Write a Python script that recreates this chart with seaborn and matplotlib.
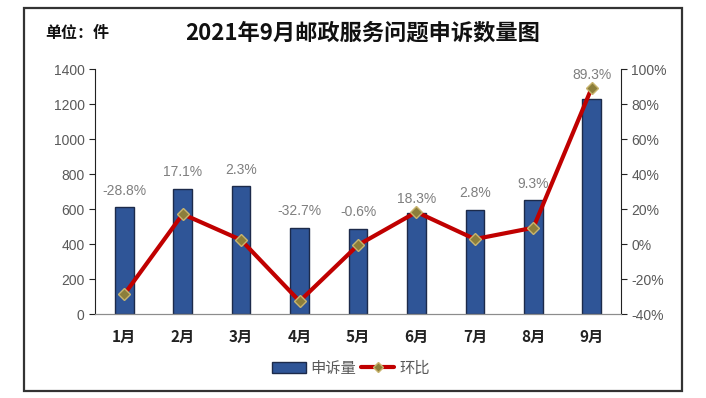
import numpy as np
import pandas as pd
import matplotlib.pyplot as plt
import seaborn as sns
from matplotlib.patches import Rectangle, Patch
from matplotlib.lines import Line2D
from matplotlib.ticker import FuncFormatter

# data
months = ["1月", "2月", "3月", "4月", "5月", "6月", "7月", "8月", "9月"]
complaints = [610, 714, 730, 491, 488, 578, 594, 649, 1229]
mom_ratio = [-28.8, 17.1, 2.3, -32.7, -0.6, 18.3, 2.8, 9.3, 89.3]

sns.set_style("white")
cjk = ["Noto Sans CJK SC", "DejaVu Sans"]
narrow = ["Liberation Sans Narrow", "Liberation Sans", "DejaVu Sans"]
plt.rcParams["font.family"] = cjk

df = pd.DataFrame({"month": months, "count": complaints, "ratio": mom_ratio})
df["pos"] = np.arange(len(df))

fig = plt.figure(figsize=(7.06, 3.98), dpi=100)
ax = fig.add_axes([0.1346, 0.211, 0.745, 0.6156])

bar_color = "#2F5597"
line_color = "#C00000"

# bars: complaint counts (left axis)
sns.barplot(data=df, x="month", y="count", color=bar_color, width=0.32,
            edgecolor="#1C2A4A", linewidth=1.0, saturation=1, ax=ax)
ax.set_xlim(-0.5, len(months) - 0.5)
ax.set_ylim(0, 1400)
ax.set_yticks(range(0, 1401, 200))
ax.set_xlabel("")
ax.set_ylabel("")

# line: month-on-month change (right axis)
ax2 = ax.twinx()
sns.lineplot(data=df, x="pos", y="ratio", color=line_color, linewidth=3,
             marker="D", markersize=6, markerfacecolor="#8C7E3B",
             markeredgecolor="#C8B46E", markeredgewidth=1, ax=ax2)
ax2.set_ylim(-40, 100)
ax2.set_yticks(range(-40, 101, 20))
ax2.yaxis.set_major_formatter(FuncFormatter(lambda v, p: f"{v:.0f}%"))
ax2.set_xlabel("")
ax2.set_ylabel("")
ax2.set_xlim(-0.5, len(months) - 0.5)

# spines and ticks
for a in (ax, ax2):
    a.spines["top"].set_visible(False)
    a.spines["bottom"].set_color("#8C8C8C")
    a.spines["left"].set_color("#222222")
    a.spines["right"].set_color("#222222")
ax.spines["right"].set_visible(False)
ax2.spines["left"].set_visible(False)
ax.tick_params(axis="y", direction="out", length=4, color="#222222",
               labelcolor="#595959", labelsize=10, left=True)
ax2.tick_params(axis="y", direction="out", length=4, color="#222222",
                labelcolor="#595959", labelsize=10, right=True)
ax.tick_params(axis="x", length=0, pad=11, labelsize=11, labelcolor="#222222")
for t in ax.get_yticklabels() + ax2.get_yticklabels():
    t.set_family(narrow)
for t in ax.get_xticklabels():
    t.set_fontweight("bold")

# data labels above the higher of bar / point (in right-axis units)
for i, (c, r) in enumerate(zip(complaints, mom_ratio)):
    bar_top = c / 10 - 40
    top = max(bar_top, r)
    off = 12 if bar_top >= r else 9
    ax2.annotate(f"{r:.1f}%", (i, top), xytext=(0, off),
                 textcoords="offset points", ha="center", va="center",
                 fontsize=10, color="#7F7F7F", family=narrow,
                 annotation_clip=False)

# titles
fig.text(0.513, 0.916, "2021年9月邮政服务问题申诉数量图", ha="center", va="center",
         fontsize=16, fontweight="bold", color="#111111")
fig.text(0.064, 0.918, "单位：件", ha="left", va="center",
         fontsize=11.5, fontweight="bold", color="#111111")

# legend
handles = [Patch(facecolor=bar_color, edgecolor="#1C2A4A", label="申诉量"),
           Line2D([0], [0], color=line_color, linewidth=3, marker="D",
                  markersize=5, markerfacecolor="#8C7E3B",
                  markeredgecolor="#C8B46E", label="环比")]
fig.legend(handles=handles, loc="center", bbox_to_anchor=(0.497, 0.075), ncol=2,
           frameon=False, fontsize=11, handlelength=2.2, handletextpad=0.3,
           columnspacing=0.3, labelcolor="#595959")

# outer frame
fig.patches.append(Rectangle((0.034, 0.018), 0.932, 0.962, transform=fig.transFigure,
                             fill=False, edgecolor="#333333", linewidth=1.6))

fig.savefig("out.png", dpi=100)
